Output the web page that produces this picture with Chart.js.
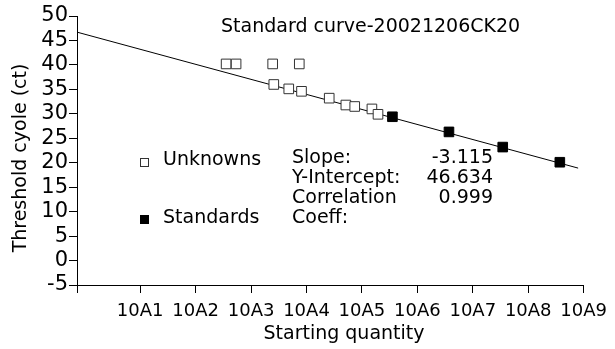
<!DOCTYPE html>
<html>
<head>
<meta charset="utf-8">
<script src="https://cdn.jsdelivr.net/npm/chart.js@4.4.0/dist/chart.umd.min.js"></script>
<style>
    html, body { margin: 0; padding: 0; background: #fff; }
    #wrap { position: relative; width: 615px; height: 349px; }
</style>
</head>
<body>
<div id="wrap"><canvas id="curve"></canvas></div>
<script>
// log10 of starting quantity, threshold cycle
const unknownLog = [2.55, 2.73, 3.39, 3.87, 3.41, 3.68, 3.91, 4.41, 4.71, 4.87, 5.18, 5.29];
const unknownCt  = [40.2, 40.2, 40.2, 40.2, 36.0, 35.1, 34.6, 33.2, 31.8, 31.5, 31.0, 29.9];
const standardLog = [5.55, 6.57, 7.54, 8.57];
const standardCt  = [29.4, 26.3, 23.2, 20.1];
const fitLog = [-0.14, 8.9];
const fitCt  = [46.7, 18.9];
const xTickValues = [1, 2, 3, 4, 5, 6, 7, 8, 9];
const xTickLabels = ["10A1", "10A2", "10A3", "10A4", "10A5", "10A6", "10A7", "10A8", "10A9"];
const statLabels = ["Slope:", "Y-Intercept:", "Correlation", "Coeff:"];
const statValues = ["-3.115", "46.634", "0.999", ""];
const chartTitle = "Standard curve-20021206CK20";
const xTitle = "Starting quantity";
const yTitle = "Threshold cyole (ct)";

const FONT = "'DejaVu Sans', sans-serif";

const toPts = (xs, ys) => xs.map((x, i) => ({ x: x, y: ys[i] }));

const textPlugin = {
    id: "curveText",
    afterDraw(chart) {
        const ctx = chart.ctx;
        ctx.save();
        ctx.fillStyle = "#000";
        ctx.textBaseline = "middle";
        ctx.font = "19px " + FONT;

        ctx.textAlign = "left";
        ctx.fillText(chartTitle, 221, 27);

        // axis titles
        ctx.textAlign = "center";
        ctx.fillText(xTitle, 344, 334);
        ctx.save();
        ctx.translate(21, 158);
        ctx.rotate(-Math.PI / 2);
        ctx.fillText(yTitle, 0, 0);
        ctx.restore();

        // legend
        ctx.textAlign = "left";
        ctx.fillText("Unknowns", 163, 160);
        ctx.fillText("Standards", 163, 218);
        ctx.strokeStyle = "#333";
        ctx.lineWidth = 1;
        ctx.fillStyle = "#fff";
        ctx.fillRect(140, 158, 9, 9);
        ctx.strokeRect(140.5, 158.5, 8, 8);
        ctx.fillStyle = "#000";
        ctx.fillRect(140, 215, 9, 9);

        // regression stats
        statLabels.forEach((s, i) => {
            ctx.textAlign = "left";
            ctx.fillText(s, 292, 158 + i * 20);
            ctx.textAlign = "right";
            ctx.fillText(statValues[i], 493, 158 + i * 20);
        });
        ctx.restore();
    }
};

new Chart(document.getElementById("curve"), {
    type: "scatter",
    data: {
        datasets: [
            {
                label: "Standards",
                data: toPts(standardLog, standardCt),
                pointStyle: "rect",
                pointRadius: 6.8,
                backgroundColor: "#000",
                borderColor: "#000",
                borderWidth: 1
            },
            {
                label: "Unknowns",
                data: toPts(unknownLog, unknownCt),
                pointStyle: "rect",
                pointRadius: 6.8,
                backgroundColor: "#fff",
                borderColor: "#333",
                borderWidth: 1
            },
            {
                label: "Fit",
                type: "line",
                data: toPts(fitLog, fitCt),
                borderColor: "#000",
                borderWidth: 1,
                pointRadius: 0,
                fill: false
            }
        ]
    },
    options: {
        responsive: true,
        maintainAspectRatio: false,
        animation: false,
        layout: { padding: { top: 16, right: 29, left: 0, bottom: 0 } },
        plugins: {
            legend: { display: false },
            tooltip: { enabled: false }
        },
        scales: {
            x: {
                type: "linear",
                min: fitLog[0],
                max: 9,
                afterBuildTicks(axis) {
                    axis.ticks = [{ value: fitLog[0] }].concat(xTickValues.map(v => ({ value: v })));
                },
                afterFit(axis) { axis.height = 64; },
                grid: { drawOnChartArea: false, color: "#000", tickLength: 8 },
                border: { color: "#000", width: 1 },
                ticks: {
                    color: "#000",
                    font: { family: FONT, size: 18 },
                    padding: 8,
                    maxRotation: 0,
                    autoSkip: false,
                    callback: v => {
                        const i = xTickValues.indexOf(v);
                        return i < 0 ? "" : xTickLabels[i];
                    }
                }
            },
            y: {
                min: -5,
                max: 50,
                afterFit(axis) { axis.width = 77; },
                grid: { drawOnChartArea: false, color: "#000", tickLength: 8 },
                border: { color: "#000", width: 1 },
                ticks: {
                    stepSize: 5,
                    autoSkip: false,
                    color: "#000",
                    font: { family: FONT, size: 21 },
                    padding: 1
                }
            }
        }
    },
    plugins: [textPlugin]
});
</script>
</body>
</html>
